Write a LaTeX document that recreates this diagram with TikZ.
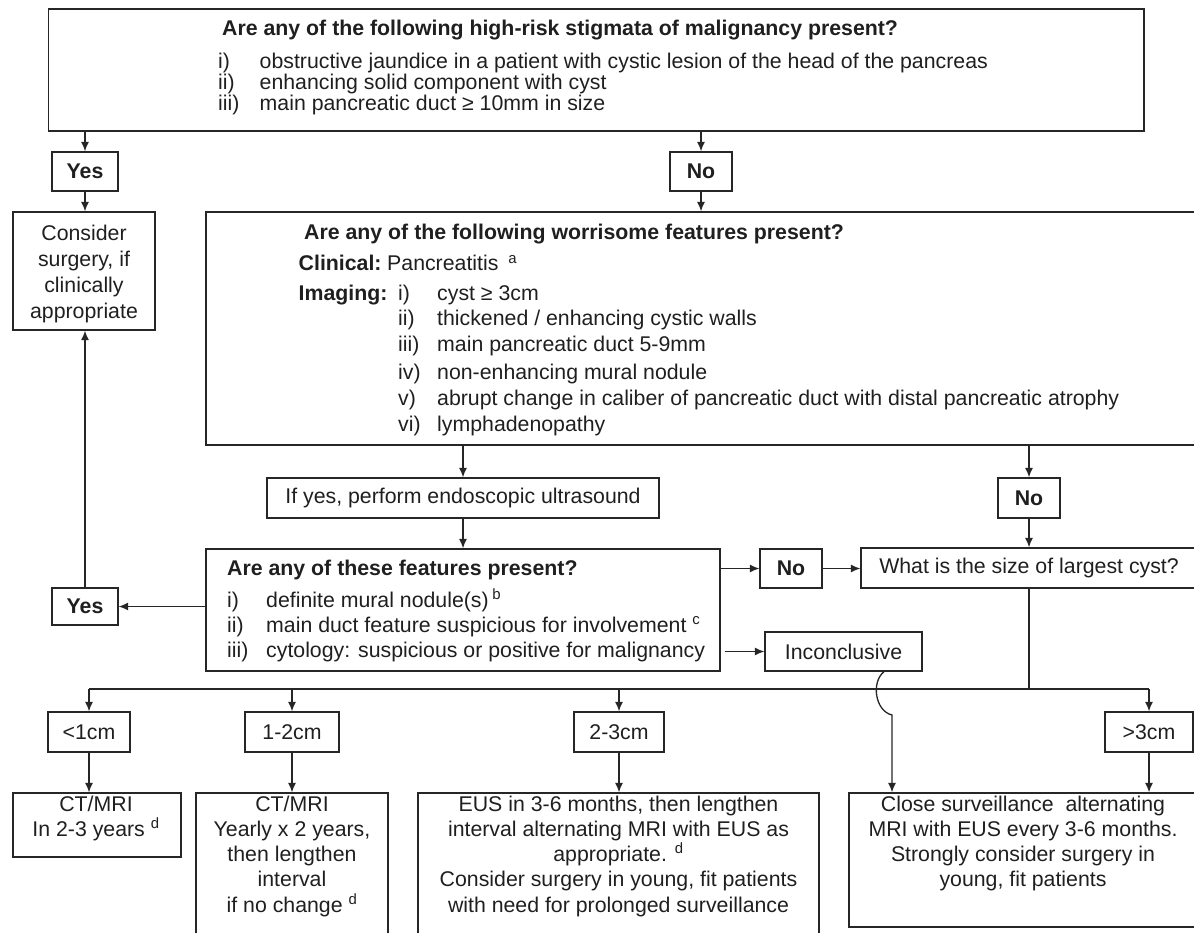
\documentclass[tikz,border=0pt]{standalone}
\usepackage{fontspec}
\setmainfont{Liberation Sans}
\usetikzlibrary{arrows.meta,calc}
\newcommand\fsz{\fontsize{21.3}{25}\selectfont}
\begin{document}
\begin{tikzpicture}[x=1pt,y=-1pt,
  box/.style={draw=black!85, line width=1.3pt, inner sep=0pt, rectangle, font=\fsz, text=black!88},
  bbox/.style={box, font=\fsz\bfseries},
  arr/.style={draw=black!85, line width=1.3pt, -{Latex[length=9.5pt,width=8pt]}},
  ln/.style={draw=black!85, line width=1.3pt},
  tl/.style={inner sep=0pt, anchor=base west, font=\fsz, text=black!88},
  tc/.style={inner sep=0pt, anchor=base, font=\fsz, text=black!88},
  bl/.style={inner sep=0pt, anchor=base west, font=\fsz\bfseries, text=black!88},
]
\useasboundingbox (0,0) rectangle (1194,933);
\clip (0,0) rectangle (1194,933);

% ---------- boxes ----------
\node[box, minimum width=1095.4, minimum height=122] (top) at (596.3,70) {};
\node[bbox, minimum width=66, minimum height=39] (yes1) at (85,171.5) {Yes};
\node[bbox, minimum width=62, minimum height=39] (no1) at (701,171.5) {No};
\node[box, minimum width=142, minimum height=118] (consider) at (84,271) {};
\node[box, minimum width=994, minimum height=233] (worry) at (703,328.5) {};
\node[box, minimum width=392, minimum height=40] (ifyes) at (463,498) {If yes, perform endoscopic ultrasound};
\node[bbox, minimum width=62, minimum height=40] (no3) at (1029,498) {No};
\node[box, minimum width=514, minimum height=122] (feat) at (463,610) {};
\node[bbox, minimum width=66, minimum height=37] (yes2) at (85,606.5) {Yes};
\node[bbox, minimum width=62, minimum height=39] (no2) at (791,568.5) {No};
\node[box, minimum width=336, minimum height=40] (what) at (1029,568) {What is the size of largest cyst?};
\node[box, minimum width=157, minimum height=39] (inc) at (843.5,651.5) {Inconclusive};
\node[box, minimum width=82, minimum height=40] (lt1) at (89,732) {<1cm};
\node[box, minimum width=94, minimum height=40] (c12) at (292,732) {1-2cm};
\node[box, minimum width=90, minimum height=40] (c23) at (619,732) {2-3cm};
\node[box, minimum width=88, minimum height=40] (gt3) at (1149,732) {>3cm};
\node[box, minimum width=168, minimum height=64] (r1) at (97,825) {};
\node[box, minimum width=192, minimum height=152] (r2) at (292,869) {};
\node[box, minimum width=401, minimum height=152] (r3) at (618.5,869) {};
\node[box, minimum width=348, minimum height=134] (r4) at (1023,860) {};

% ---------- texts: top box ----------
\node[bl] (t0) at (222,36) {Are any of the following high-risk stigmata of malignancy present?};
\node[tl] (t1a) at (218,69) {i)};
\node[tl] (t1b) at (259.5,69) {obstructive jaundice in a patient with cystic lesion of the head of the pancreas};
\node[tl] (t2a) at (218,90) {ii)};
\node[tl] (t2b) at (259.5,90) {enhancing solid component with cyst};
\node[tl] (t3a) at (218,111) {iii)};
\node[tl] (t3b) at (259.5,111) {main pancreatic duct ≥ 10mm in size};

% ---------- consider ----------
\node[tc] (k1) at (84,241) {Consider};
\node[tc] (k2) at (84,267) {surgery, if};
\node[tc] (k3) at (84,292.5) {clinically};
\node[tc] (k4) at (84,318.5) {appropriate};

% ---------- worrisome ----------
\node[bl] (w0) at (304,240) {Are any of the following worrisome features present?};
\node[bl] (wc) at (298.5,271) {Clinical:};
\node[tl] (wc2) at (387,271) {Pancreatitis\hspace{10pt}\textsuperscript{a}};
\node[bl] (wi) at (298.5,301) {Imaging:};
\node[tl] (w1a) at (398,301) {i)};
\node[tl] (w1b) at (437,301) {cyst ≥ 3cm};
\node[tl] (w2a) at (398,326) {ii)};
\node[tl] (w2b) at (437,326) {thickened / enhancing cystic walls};
\node[tl] (w3a) at (398,352) {iii)};
\node[tl] (w3b) at (437,352) {main pancreatic duct 5-9mm};
\node[tl] (w4a) at (398,379) {iv)};
\node[tl] (w4b) at (437,379) {non-enhancing mural nodule};
\node[tl] (w5a) at (398,405) {v)};
\node[tl] (w5b) at (437,405) {abrupt change in caliber of pancreatic duct with distal pancreatic atrophy};
\node[tl] (w6a) at (398,431) {vi)};
\node[tl] (w6b) at (437,431) {lymphadenopathy};

% ---------- features ----------
\node[bl] (f0) at (227,575) {Are any of these features present?};
\node[tl] (f1a) at (227,607) {i)};
\node[tl] (f1b) at (266,607) {definite mural nodule(s)\,\textsuperscript{b}};
\node[tl] (f2a) at (227,632) {ii)};
\node[tl] (f2b) at (266,632) {main duct feature suspicious for involvement\ \textsuperscript{c}};
\node[tl] (f3a) at (227,657) {iii)};
\node[tl] (f3b) at (266,657) {cytology: suspicious or positive for malignancy};

% ---------- results ----------
\node[tc] (a1) at (96,811) {CT/MRI};
\node[tc] (a2) at (96,836) {In 2-3 years \textsuperscript{d}};

\node[tc] (b1) at (292,811) {CT/MRI};
\node[tc] (b2) at (292,836) {Yearly x 2 years,};
\node[tc] (b3) at (292,861) {then lengthen};
\node[tc] (b4) at (292,886) {interval};
\node[tc] (b5) at (292,912) {if no change \textsuperscript{d}};

\node[tc] (c1) at (618.5,811) {EUS in 3-6 months, then lengthen};
\node[tc] (c2) at (618.5,836) {interval alternating MRI with EUS as};
\node[tc] (c3) at (618.5,861) {appropriate. \textsuperscript{d}};
\node[tc] (c4) at (618.5,886) {Consider surgery in young, fit patients};
\node[tc] (c5) at (618.5,912) {with need for prolonged surveillance};

\node[tc] (d1) at (1023,811) {Close surveillance\ \ alternating};
\node[tc] (d2) at (1023,836) {MRI with EUS every 3-6 months.};
\node[tc] (d3) at (1023,861) {Strongly consider surgery in};
\node[tc] (d4) at (1023,886) {young, fit patients};

% ---------- connectors ----------
\draw[arr] (top.south -| yes1.north) -- (yes1.north);
\draw[arr] (top.south -| no1.north) -- (no1.north);
\draw[arr] (yes1.south) -- (yes1.south |- consider.north);
\draw[arr] (no1.south) -- (no1.south |- worry.north);
\draw[arr] (worry.south -| ifyes.north) -- (ifyes.north);
\draw[arr] (ifyes.south) -- (ifyes.south |- feat.north);
\draw[arr] (worry.south -| no3.north) -- (no3.north);
\draw[arr] (no3.south) -- (no3.south |- what.north);
\draw[arr] (feat.west |- yes2.east) -- (yes2.east);
\draw[arr] (yes2.north) -- (yes2.north |- consider.south);
\draw[arr] (feat.east |- no2.west) -- (no2.west);
\draw[arr] (no2.east) -- (what.west |- no2.east);
\draw[arr, shorten <=4pt] (feat.east |- inc.west) -- (inc.west);

\coordinate (bar) at (0,689);
\draw[ln] (what.south) -- (what.south |- bar);
\draw[ln] (lt1.north |- bar) -- (gt3.north |- bar);
\draw[arr] (lt1.north |- bar) -- (lt1.north);
\draw[arr] (c12.north |- bar) -- (c12.north);
\draw[arr] (c23.north |- bar) -- (c23.north);
\draw[arr] (gt3.north |- bar) -- (gt3.north);

\draw[arr] (lt1.south) -- (lt1.south |- r1.north);
\draw[arr] (c12.south) -- (c12.south |- r2.north);
\draw[arr] (c23.south) -- (c23.south |- r3.north);
\draw[arr] (gt3.south) -- (gt3.south |- r4.north);

\coordinate (hopS) at ([xshift=40.5pt]inc.south);
\coordinate (hopE) at (892,715);
\draw[arr] (hopS) .. controls (871,682) and (875,711) .. (hopE) -- (hopE |- r4.north);
\end{tikzpicture}
\end{document}
